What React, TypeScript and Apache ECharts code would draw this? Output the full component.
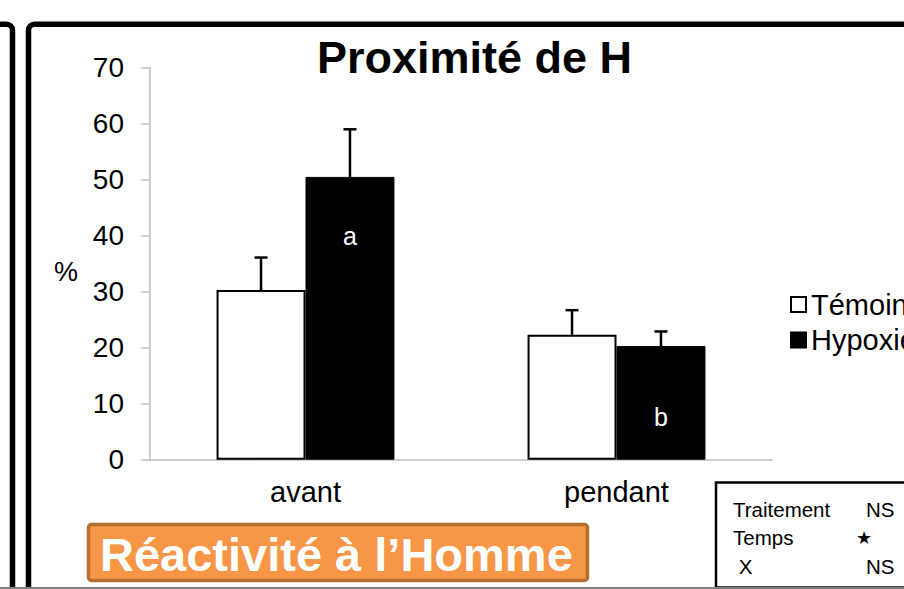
import React, { useEffect, useRef } from "react";
import * as echarts from "echarts";

const categories = ["avant", "pendant"];
const seriesNames = ["Témoin", "Hypoxie"];
const temoinValues = [30.3, 22.3];
const hypoxieValues = [50.5, 20.3];
const temoinErrors = [5.8, 4.4];
const hypoxieErrors = [8.5, 2.6];
const barLetters = ["a", "b"];
const yTicks = { min: 0, max: 70, interval: 10 };
const statsRows = [
  ["Traitement", "NS"],
  ["Temps", "★"],
  [" X", "NS"],
];

const FONT = "'Liberation Sans', Arial, sans-serif";
const BAR_FRACTION = 0.286;

function errorRenderer(side: number) {
  return (params: any, api: any) => {
    const idx = api.value(0);
    const v = api.value(1);
    const e = api.value(2);
    const band = api.size([1, 0])[0];
    const off = side * band * BAR_FRACTION * 0.5;
    const p0 = api.coord([idx, v]);
    const p1 = api.coord([idx, v + e]);
    const x = p0[0] + off;
    return {
      type: "group",
      children: [
        {
          type: "line",
          shape: { x1: x, y1: p0[1], x2: x, y2: p1[1] },
          style: { stroke: "#000", lineWidth: 2.5 },
        },
        {
          type: "line",
          shape: { x1: x - 6.5, y1: p1[1], x2: x + 6.5, y2: p1[1] },
          style: { stroke: "#000", lineWidth: 2.5 },
        },
      ],
    };
  };
}

export default function App() {
  const ref = useRef<HTMLDivElement>(null);
  useEffect(() => {
    if (!ref.current) return;
    const chart = echarts.init(ref.current, undefined, { renderer: "svg" });
    const letterDistances = [47, 58];
    const option: any = {
      animation: false,
      backgroundColor: "#fff",
      textStyle: { fontFamily: FONT },
      grid: { left: 150, top: 67.7, right: 132, bottom: 129.3, containLabel: false },
      legend: {
        data: seriesNames,
        orient: "vertical",
        left: 790,
        top: 290,
        padding: 0,
        icon: "rect",
        itemWidth: 15,
        itemHeight: 15,
        itemGap: 6.5,
        textStyle: { fontSize: 29, color: "#000", fontFamily: FONT, lineHeight: 29 },
      },
      xAxis: {
        type: "category",
        data: categories,
        axisLine: { show: true, lineStyle: { color: "#BFBFBF", width: 1.5 } },
        axisTick: { show: false },
        axisLabel: { fontSize: 29, color: "#000", margin: 18, fontFamily: FONT },
        splitLine: { show: false },
      },
      yAxis: {
        type: "value",
        min: yTicks.min,
        max: yTicks.max,
        interval: yTicks.interval,
        axisLine: { show: true, lineStyle: { color: "#BFBFBF", width: 1.5 } },
        axisTick: { show: true, inside: false, length: 9, lineStyle: { color: "#BFBFBF", width: 1.5 } },
        axisLabel: { fontSize: 28, color: "#000", margin: 26, fontFamily: FONT },
        splitLine: { show: false },
      },
      series: [
        {
          name: seriesNames[0],
          type: "bar",
          data: temoinValues,
          barWidth: (BAR_FRACTION * 100).toFixed(1) + "%",
          barGap: "0%",
          itemStyle: { color: "#fff", borderColor: "#000", borderWidth: 2 },
          z: 2,
        },
        {
          name: seriesNames[1],
          type: "bar",
          data: hypoxieValues.map((v, i) => ({
            value: v,
            label: {
              show: true,
              position: "insideTop",
              distance: letterDistances[i],
              formatter: barLetters[i],
              color: "#fff",
              fontSize: 25,
              fontFamily: FONT,
            },
          })),
          barWidth: (BAR_FRACTION * 100).toFixed(1) + "%",
          barGap: "0%",
          itemStyle: { color: "#000", borderColor: "#000", borderWidth: 1 },
          z: 2,
        },
        {
          name: "errTemoin",
          type: "custom",
          renderItem: errorRenderer(-1),
          data: temoinValues.map((v, i) => [i, v, temoinErrors[i]]),
          z: 5,
          silent: true,
        },
        {
          name: "errHypoxie",
          type: "custom",
          renderItem: errorRenderer(1),
          data: hypoxieValues.map((v, i) => [i, v, hypoxieErrors[i]]),
          z: 5,
          silent: true,
        },
      ],
      graphic: [
        {
          type: "rect",
          shape: { x: -30, y: 24.3, width: 42.5, height: 640, r: 6 },
          style: { fill: "none", stroke: "#000", lineWidth: 5.5 },
          z: 10,
        },
        {
          type: "rect",
          shape: { x: 28.5, y: 24.3, width: 920, height: 640, r: 6 },
          style: { fill: "none", stroke: "#000", lineWidth: 5.5 },
          z: 10,
        },
        {
          type: "line",
          shape: { x1: 0, y1: 588, x2: 904, y2: 588 },
          style: { stroke: "#808080", lineWidth: 2 },
          z: 11,
        },
        {
          type: "text",
          x: 474.5,
          y: 57.7,
          style: {
            text: "Proximité de H",
            font: "bold 45px " + FONT,
            fill: "#000",
            textAlign: "center",
            textVerticalAlign: "middle",
          },
          z: 10,
        },
        {
          type: "text",
          x: 66,
          y: 272,
          style: {
            text: "%",
            font: "27px " + FONT,
            fill: "#000",
            textAlign: "center",
            textVerticalAlign: "middle",
          },
          z: 10,
        },
        {
          type: "rect",
          shape: { x: 88.5, y: 524.5, width: 499, height: 56, r: 3 },
          style: { fill: "#F79646", stroke: "#B5702F", lineWidth: 3.5 },
          z: 10,
        },
        {
          type: "text",
          x: 100,
          y: 554,
          style: {
            text: "Réactivité à l’Homme",
            font: "bold 47px " + FONT,
            fill: "#fff",
            textAlign: "left",
            textVerticalAlign: "middle",
          },
          z: 11,
        },
        {
          type: "rect",
          shape: { x: 716, y: 482.5, width: 300, height: 105 },
          style: { fill: "#fff", stroke: "#000", lineWidth: 2.5 },
          z: 10,
        },
        ...statsRows.flatMap((row, i) => [
          {
            type: "text",
            x: 733,
            y: 509 + i * 28.5,
            style: {
              text: row[0],
              font: "20.5px " + FONT,
              fill: "#000",
              textAlign: "left",
              textVerticalAlign: "middle",
            },
            z: 11,
          },
          {
            type: "text",
            x: row[1] === "★" ? 864 : 866,
            y: 509 + i * 28.5,
            style: {
              text: row[1],
              font: (row[1] === "★" ? "18px 'DejaVu Sans', " : "20.5px ") + FONT,
              fill: "#000",
              textAlign: row[1] === "★" ? "center" : "left",
              textVerticalAlign: "middle",
            },
            z: 11,
          },
        ]),
      ],
    };
    chart.setOption(option);
    return () => chart.dispose();
  }, []);
  return (
    <div
      ref={ref}
      style={{ position: "fixed", left: 0, top: 0, width: 904, height: 589, background: "#fff" }}
    />
  );
}
